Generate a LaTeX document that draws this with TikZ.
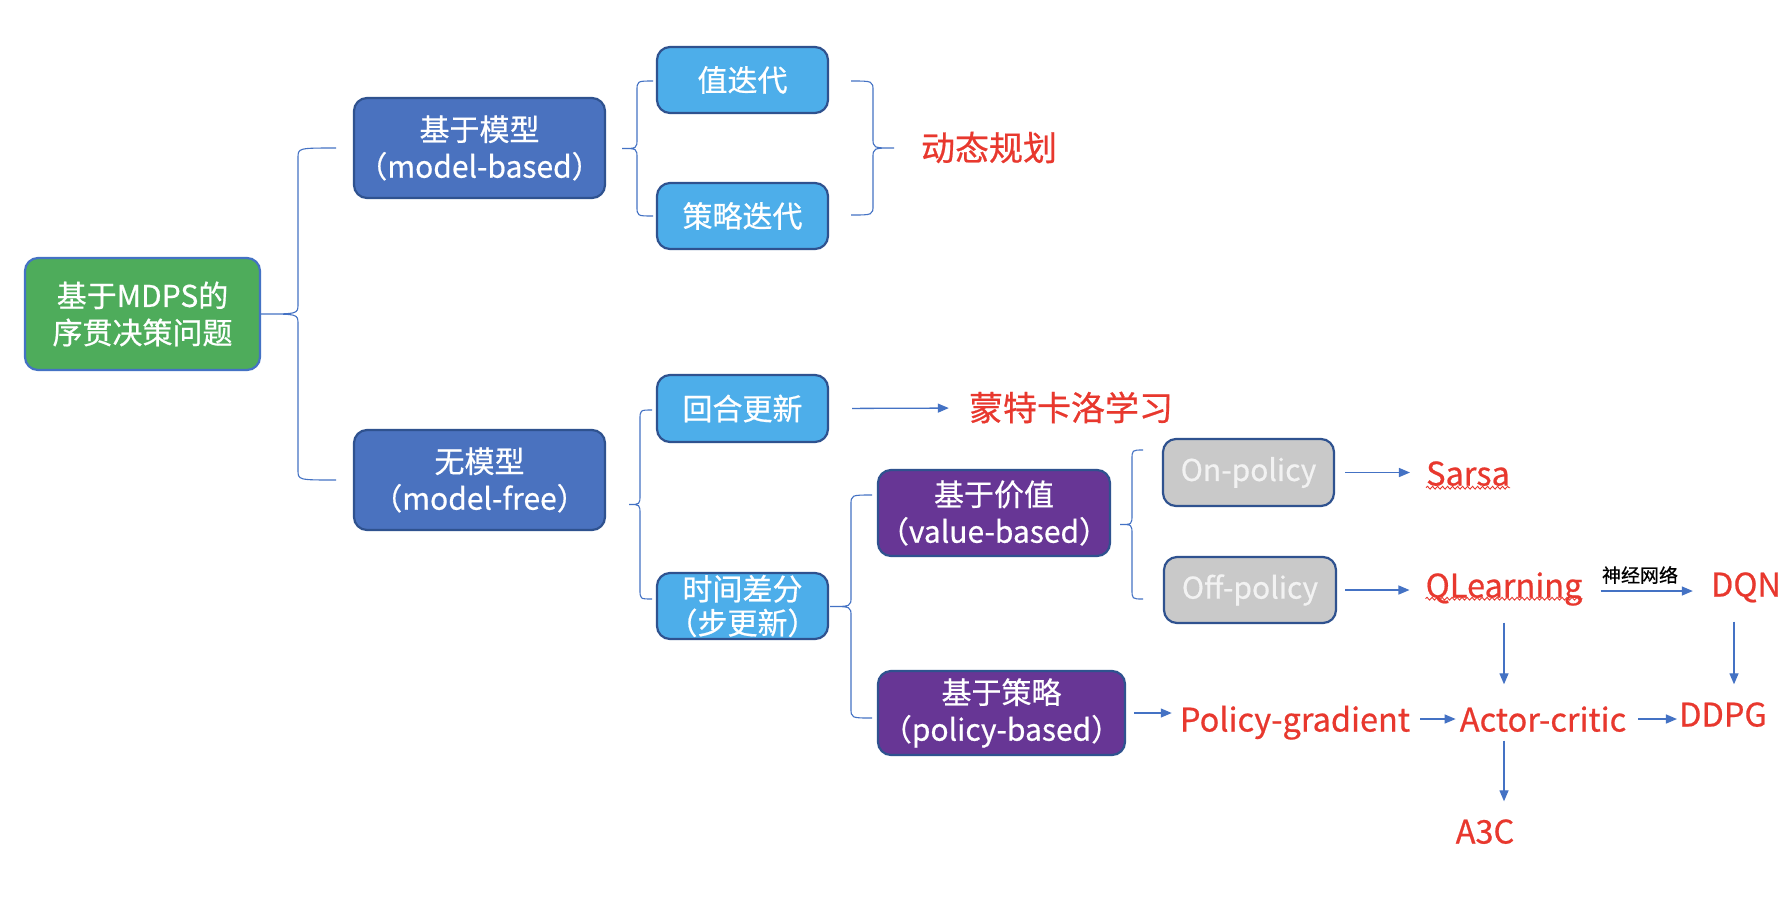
\documentclass[tikz,border=0pt]{standalone}
\usepackage{fontspec}
\setmainfont{Noto Sans CJK SC}[FakeBold=0.6]
\usetikzlibrary{arrows.meta,calc,decorations.pathmorphing}
\definecolor{cgreen}{HTML}{4EAC5B}
\definecolor{cblue}{HTML}{4A72BF}
\definecolor{cborder}{HTML}{2F528F}
\definecolor{clight}{HTML}{4DAEEA}
\definecolor{cpurple}{HTML}{673695}
\definecolor{cgray}{HTML}{C9C9C9}
\definecolor{cred}{HTML}{E8382E}
\definecolor{cline}{HTML}{4472C4}
\newcommand{\mybrace}[5]{%
  \pgfmathsetmacro{\bym}{(#4+#5)/2}%
  \draw[brc] (#1,#4) .. controls (#2,#4) .. (#2,#4+10) -- (#2,\bym-10) .. controls (#2,\bym) .. (#3,\bym) .. controls (#2,\bym) .. (#2,\bym+10) -- (#2,#5-10) .. controls (#2,#5) .. (#1,#5);%
}
\begin{document}
\begin{tikzpicture}[x=1pt,y=-1pt,
  box/.style={draw=cborder, line width=2.2pt, rounded corners=13pt, text=white, align=center, inner sep=0pt, font=\fontsize{30}{37}\selectfont},
  lbl/.style={text=cred, inner sep=0pt, text height=29pt, text depth=4pt, font=\fontsize{34}{40}\selectfont},
  lbla/.style={lbl, font=\fontsize{32.5}{40}\selectfont},
  arr/.style={draw=cline, line width=1.3pt, -{Triangle[length=11pt,width=9pt]}},
  brc/.style={draw=cline, line width=1.1pt},
  wavy/.style={draw=cred, line width=0.9pt, decorate, decoration={snake, segment length=5pt, amplitude=1.4pt}}
]
\fill[white] (0,0) rectangle (1790,898);
\useasboundingbox (0,0) rectangle (1790,898);

% boxes
\node[box, fill=cgreen, draw=cline, minimum width=235pt, minimum height=112pt] (root) at (142.5,314) {基于MDPS的\\序贯决策问题};
\node[box, fill=cblue, minimum width=251pt, minimum height=100pt] (mb) at (479.5,148) {基于模型\\（model-based）};
\node[box, fill=cblue, minimum width=251pt, minimum height=100pt] (mf) at (479.5,480) {无模型\\（model-free）};
\node[box, fill=clight, minimum width=171pt, minimum height=66pt] (vi) at (742.5,80) {值迭代};
\node[box, fill=clight, minimum width=171pt, minimum height=66pt] (pi) at (742.5,216) {策略迭代};
\node[box, fill=clight, minimum width=171pt, minimum height=67pt] (mc) at (742.5,408.5) {回合更新};
\node[box, fill=clight, minimum width=171pt, minimum height=66pt, font=\fontsize{30}{34}\selectfont] (td) at (742.5,606) {时间差分\\（步更新）};
\node[box, fill=cpurple, minimum width=232pt, minimum height=86pt] (vb) at (994,513) {基于价值\\（value-based）};
\node[box, fill=cpurple, minimum width=247pt, minimum height=84pt] (pb) at (1001.5,713) {基于策略\\（policy-based）};
\node[box, fill=cgray, text=white!95!black, minimum width=171pt, minimum height=67pt] (on) at (1248.5,472.5) {On-policy};
\node[box, fill=cgray, text=white!95!black, minimum width=172pt, minimum height=66pt] (off) at (1250,590) {Off-policy};

% red labels
\node[lbl] (dp) at (989,148) {动态规划};
\node[lbl] (mcl) at (1071,408) {蒙特卡洛学习};
\node[lbla] (sarsa) at (1468,473) {Sarsa};
\node[lbla] (ql) at (1504,585) {QLearning};
\node[lbla] (dqn) at (1746,584) {DQN};
\node[lbla] (pg) at (1295,719) {Policy-gradient};
\node[lbla] (ac) at (1543,719) {Actor-critic};
\node[lbla] (ddpg) at (1723,714) {DDPG};
\node[lbla] (a3c) at (1485,831) {A3C};
\node[inner sep=0pt, font=\fontsize{19}{22}\selectfont] (nn) at (1640,575) {神经网络};

% braces
\mybrace{336}{298}{261}{148}{480}
\mybrace{653}{637}{622}{81}{216}
\mybrace{851}{873}{894}{81}{215}
\mybrace{652}{640}{629}{410}{599}
\mybrace{872}{851}{830}{495}{718}
\mybrace{1143}{1132}{1120}{450}{599}

% arrows
\draw[arr, shorten <=23pt, shorten >=20pt] (mc.east) -- (mcl.west);
\draw[arr, shorten <=10pt, shorten >=16pt] (on.east) -- (on.east -| sarsa.west);
\draw[arr, shorten <=8pt, shorten >=16pt] (off.east) -- (off.east -| ql.west);
\coordinate (qle) at ([yshift=-6pt]ql.east);
\draw[arr, shorten <=18pt, shorten >=18pt] (qle) -- (qle -| dqn.west);
\draw[arr, shorten <=21pt, shorten >=18pt] (ql.south) -- (ql.south |- ac.north);
\coordinate (dqnb) at ([xshift=-12pt]dqn.south);
\draw[arr, shorten <=21pt, shorten >=13pt] (dqnb) -- (dqnb |- ddpg.north);
\draw[arr, shorten <=8pt, shorten >=8pt] (pb.east) -- (pb.east -| pg.west);
\draw[arr, shorten <=10pt, shorten >=4pt] (pg.east) -- (pg.east -| ac.west);
\draw[arr, shorten <=12pt, shorten >=2pt] (ac.east) -- (ac.east -| ddpg.west);
\draw[arr, shorten <=5pt, shorten >=13pt] (ac.south -| ql.south) -- (a3c.north -| ql.south);

% spell-check underlines
\draw[wavy] ($(sarsa.south west)+(0,-2)$) -- ($(sarsa.south east)+(0,-2)$);
\draw[wavy] ($(ql.south west)+(0,-3)$) -- ($(ql.south east)+(0,-3)$);
\end{tikzpicture}
\end{document}
